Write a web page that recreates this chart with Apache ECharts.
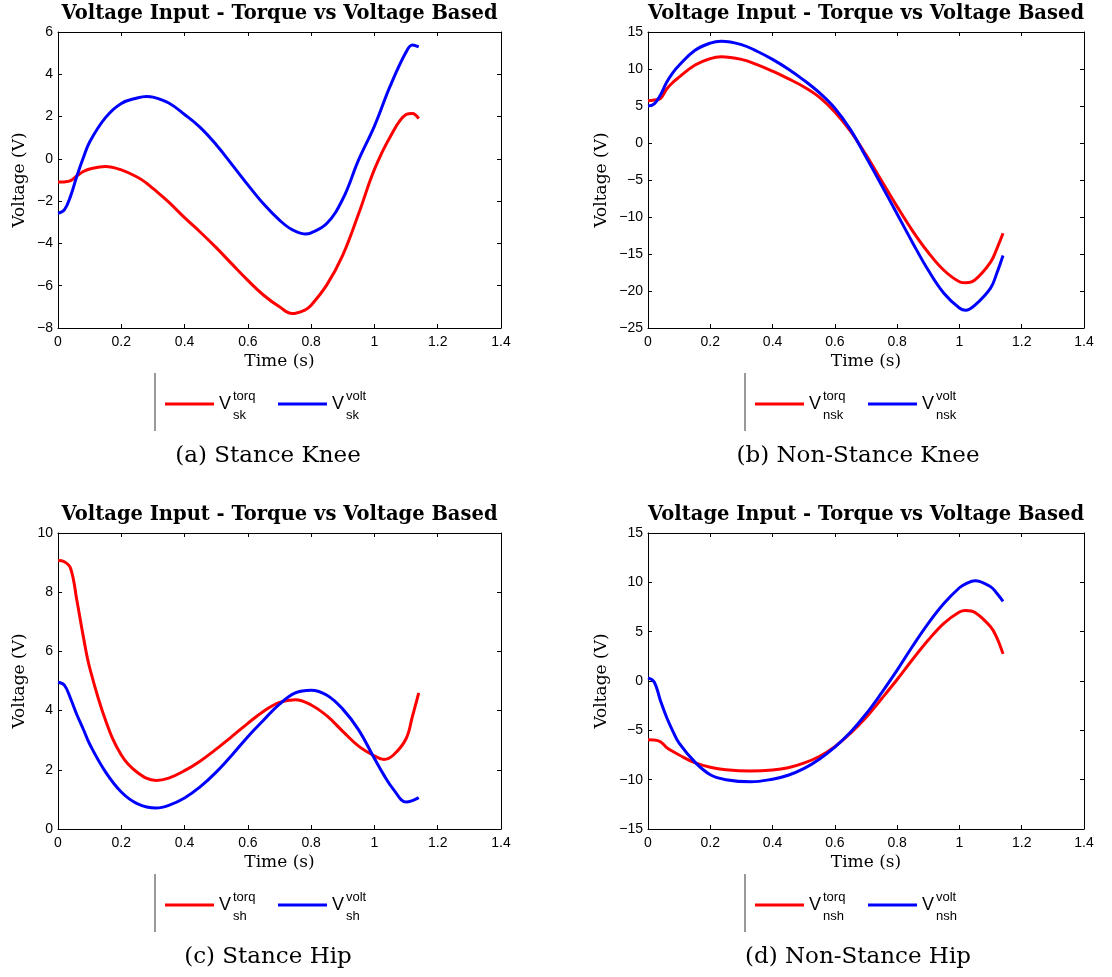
<!DOCTYPE html>
<html>
<head>
<meta charset="utf-8">
<title>Voltage Input - Torque vs Voltage Based</title>
<script src="https://cdn.jsdelivr.net/npm/echarts@6/dist/echarts.min.js"></script>
<style>
  html, body { margin: 0; padding: 0; background: #fff; }
  #chart { width: 1112px; height: 977px; }
</style>
</head>
<body>
<div id="chart"></div>
<script>
// (a) Stance knee: sample times (s) and voltages (V)
const SK_TIME = [0, 0.02, 0.04, 0.06, 0.08, 0.1, 0.15, 0.2, 0.25, 0.28, 0.3, 0.35, 0.4, 0.45, 0.5,
                 0.55, 0.6, 0.65, 0.7, 0.74, 0.78, 0.8, 0.85, 0.9, 0.95, 1.0, 1.05, 1.1, 1.12, 1.14];
const SK_TORQ = [-1.10, -1.09, -1.03, -0.80, -0.60, -0.48, -0.36, -0.52, -0.86, -1.15, -1.40, -2.05, -2.78, -3.47, -4.20,
                 -4.98, -5.75, -6.45, -7.00, -7.32, -7.15, -6.92, -5.95, -4.55, -2.60, -0.50, 1.05, 2.10, 2.15, 1.90];
const SK_VOLT = [-2.57, -2.41, -1.75, -0.80, 0.05, 0.80, 1.95, 2.62, 2.88, 2.95, 2.92, 2.64, 2.10, 1.48, 0.67,
                 -0.27, -1.23, -2.14, -2.90, -3.35, -3.55, -3.50, -3.05, -1.90, -0.05, 1.55, 3.45, 5.05, 5.38, 5.30];

// (b) Non-stance knee
const NSK_TIME = [0, 0.02, 0.04, 0.06, 0.08, 0.1, 0.15, 0.2, 0.235, 0.3, 0.35, 0.4, 0.45, 0.5,
                  0.55, 0.6, 0.65, 0.7, 0.75, 0.8, 0.85, 0.9, 0.95, 1.0, 1.02, 1.05, 1.1, 1.12, 1.14];
const NSK_TORQ = [5.7, 5.8, 6.0, 7.3, 8.2, 8.9, 10.5, 11.4, 11.65, 11.3, 10.6, 9.7, 8.7, 7.6,
                  6.2, 4.2, 1.6, -1.6, -5.1, -8.6, -11.9, -14.8, -17.2, -18.75, -18.9, -18.5, -16.1, -14.3, -12.2];
const NSK_VOLT = [5.0, 5.3, 6.5, 8.2, 9.5, 10.5, 12.5, 13.5, 13.75, 13.3, 12.4, 11.3, 10.0, 8.5,
                  6.8, 4.7, 1.8, -1.9, -5.7, -9.6, -13.5, -17.2, -20.3, -22.3, -22.6, -21.9, -19.6, -17.6, -15.2];

// (c) Stance hip
const SH_TIME = [0, 0.02, 0.04, 0.06, 0.08, 0.1, 0.15, 0.2, 0.25, 0.31, 0.35, 0.4, 0.45, 0.5,
                 0.55, 0.6, 0.65, 0.7, 0.75, 0.8, 0.85, 0.9, 0.95, 1.0, 1.03, 1.06, 1.1, 1.12, 1.14];
const SH_TORQ = [9.07, 9.03, 8.80, 7.70, 6.50, 5.45, 3.68, 2.50, 1.92, 1.64, 1.72, 1.97, 2.30, 2.70,
                 3.13, 3.57, 3.98, 4.28, 4.37, 4.19, 3.82, 3.30, 2.80, 2.47, 2.35, 2.50, 3.05, 3.80, 4.60];
const SH_VOLT = [4.96, 4.86, 4.40, 3.85, 3.37, 2.87, 1.93, 1.25, 0.86, 0.71, 0.80, 1.05, 1.43, 1.92,
                 2.50, 3.12, 3.68, 4.22, 4.60, 4.69, 4.52, 4.05, 3.35, 2.38, 1.82, 1.34, 0.91, 0.96, 1.06];

// (d) Non-stance hip
const NSH_TIME = [0, 0.02, 0.04, 0.06, 0.08, 0.1, 0.15, 0.2, 0.25, 0.33, 0.4, 0.45, 0.5,
                  0.55, 0.6, 0.65, 0.7, 0.75, 0.8, 0.85, 0.9, 0.95, 1.0, 1.02, 1.05, 1.1, 1.12, 1.14];
const NSH_TORQ = [-5.95, -5.97, -6.15, -6.75, -7.15, -7.50, -8.28, -8.75, -9.00, -9.13, -9.03, -8.80, -8.33,
                  -7.65, -6.65, -5.30, -3.70, -1.80, 0.15, 2.20, 4.15, 5.85, 7.00, 7.15, 6.95, 5.50, 4.40, 2.75];
const NSH_VOLT = [0.32, -0.10, -2.00, -3.70, -5.10, -6.30, -8.20, -9.50, -10.00, -10.22, -9.95, -9.55, -8.88,
                  -7.92, -6.70, -5.20, -3.35, -1.20, 1.10, 3.55, 5.85, 7.85, 9.45, 9.85, 10.17, 9.55, 8.90, 8.08];

// Axis ranges and tick steps per panel
const Y_MIN  = [-8, -25, 0, -15];
const Y_MAX  = [6, 15, 10, 15];
const Y_STEP = [2, 5, 2, 5];
const X_MIN = 0, X_MAX = 1.4, X_STEP = 0.2;

// Texts
const TITLE = 'Voltage Input - Torque vs Voltage Based';
const X_NAME = 'Time (s)';
const Y_NAME = 'Voltage (V)';
const JOINT_SUB = ['sk', 'nsk', 'sh', 'nsh'];
const CAPTIONS = ['(a) Stance Knee', '(b) Non-Stance Knee', '(c) Stance Hip', '(d) Non-Stance Hip'];
const SERIES_TIME = [SK_TIME, NSK_TIME, SH_TIME, NSH_TIME];
const SERIES_TORQ = [SK_TORQ, NSK_TORQ, SH_TORQ, NSH_TORQ];
const SERIES_VOLT = [SK_VOLT, NSK_VOLT, SH_VOLT, NSH_VOLT];

const RED = '#ff0000', BLUE = '#0000ff';
const SANS = '"Liberation Sans", Arial, sans-serif';
const SERIF = '"DejaVu Serif", serif';

// Plot-box placement of the 2x2 layout
const BOXES = [
  { left: 58,  top: 32,  width: 443, height: 296 },
  { left: 648, top: 32,  width: 436, height: 296 },
  { left: 58,  top: 533, width: 443, height: 296 },
  { left: 648, top: 533, width: 436, height: 296 }
];
const Y_NAME_GAP = [30, 38, 30, 38];

const minusSign = v => String(v).replace('-', '\u2212');

const grids = [], xAxes = [], yAxes = [], series = [], titles = [], graphics = [];

BOXES.forEach((b, i) => {
  grids.push({ left: b.left, top: b.top, width: b.width, height: b.height, containLabel: false });

  const tickStyle = { inside: true, length: 4, lineStyle: { color: '#000', width: 1 } };
  const lineStyle = { show: true, onZero: false, lineStyle: { color: '#000', width: 1 } };

  // bottom / top x axes
  xAxes.push({
    type: 'value', gridIndex: i, position: 'bottom', min: X_MIN, max: X_MAX, interval: X_STEP,
    axisLine: lineStyle, axisTick: tickStyle, splitLine: { show: false },
    axisLabel: { color: '#000', fontFamily: SANS, fontSize: 14, margin: 7 },
    name: X_NAME, nameLocation: 'middle', nameGap: 25,
    nameTextStyle: { color: '#000', fontFamily: SERIF, fontSize: 17 }
  });
  xAxes.push({
    type: 'value', gridIndex: i, position: 'top', min: X_MIN, max: X_MAX, interval: X_STEP,
    axisLine: lineStyle, axisTick: tickStyle, splitLine: { show: false },
    axisLabel: { show: false }
  });

  // left / right y axes
  yAxes.push({
    type: 'value', gridIndex: i, position: 'left', min: Y_MIN[i], max: Y_MAX[i], interval: Y_STEP[i],
    axisLine: lineStyle, axisTick: tickStyle, splitLine: { show: false },
    axisLabel: { color: '#000', fontFamily: SANS, fontSize: 14, margin: 5, formatter: minusSign },
    name: Y_NAME, nameLocation: 'middle', nameGap: Y_NAME_GAP[i],
    nameTextStyle: { color: '#000', fontFamily: SERIF, fontSize: 17 }
  });
  yAxes.push({
    type: 'value', gridIndex: i, position: 'right', min: Y_MIN[i], max: Y_MAX[i], interval: Y_STEP[i],
    axisLine: lineStyle, axisTick: tickStyle, splitLine: { show: false },
    axisLabel: { show: false }
  });

  const times = SERIES_TIME[i];
  const mk = (vals) => times.map((t, k) => [t, vals[k]]);
  series.push({
    type: 'line', xAxisIndex: 2 * i, yAxisIndex: 2 * i, data: mk(SERIES_TORQ[i]),
    showSymbol: false, smooth: 0.4, lineStyle: { color: RED, width: 3 }, itemStyle: { color: RED },
    silent: true, animation: false
  });
  series.push({
    type: 'line', xAxisIndex: 2 * i, yAxisIndex: 2 * i, data: mk(SERIES_VOLT[i]),
    showSymbol: false, smooth: 0.4, lineStyle: { color: BLUE, width: 3 }, itemStyle: { color: BLUE },
    silent: true, animation: false
  });

  titles.push({
    text: TITLE, left: b.left + b.width / 2, top: b.top - 28, textAlign: 'center', padding: 0,
    textStyle: { fontFamily: SERIF, fontWeight: 'bold', fontSize: 19.5, color: '#000' }
  });

  // legend block below the axes
  const bottom = b.top + b.height;
  const ly = bottom + 76;
  const L = b.left;
  const sub = JOINT_SUB[i];
  const entries = [
    { x0: L + 107, color: RED, sup: 'torq' },
    { x0: L + 220, color: BLUE, sup: 'volt' }
  ];
  graphics.push({
    type: 'line', shape: { x1: L + 97, y1: bottom + 45, x2: L + 97, y2: bottom + 103 },
    style: { stroke: '#777', lineWidth: 1.5 }
  });
  entries.forEach(e => {
    graphics.push({
      type: 'line', shape: { x1: e.x0, y1: ly, x2: e.x0 + 49, y2: ly },
      style: { stroke: e.color, lineWidth: 3 }
    });
    graphics.push({
      type: 'text', x: e.x0 + 54, y: ly,
      style: { text: 'V', fontFamily: SANS, fontSize: 18, fill: '#000', textAlign: 'left', textVerticalAlign: 'middle' }
    });
    graphics.push({
      type: 'text', x: e.x0 + 68, y: ly - 8,
      style: { text: e.sup, fontFamily: SANS, fontSize: 13, fill: '#000', textAlign: 'left', textVerticalAlign: 'middle' }
    });
    graphics.push({
      type: 'text', x: e.x0 + 68, y: ly + 11,
      style: { text: sub, fontFamily: SANS, fontSize: 13, fill: '#000', textAlign: 'left', textVerticalAlign: 'middle' }
    });
  });
  graphics.push({
    type: 'text', x: L + 210, y: bottom + 128,
    style: { text: CAPTIONS[i], fontFamily: SERIF, fontSize: 23, fill: '#000', textAlign: 'center', textVerticalAlign: 'middle' }
  });
});

const chart = echarts.init(document.getElementById('chart'), null, { renderer: 'canvas' });
chart.setOption({
  backgroundColor: '#fff',
  animation: false,
  title: titles,
  grid: grids,
  xAxis: xAxes,
  yAxis: yAxes,
  series: series,
  graphic: graphics
});
</script>
</body>
</html>
